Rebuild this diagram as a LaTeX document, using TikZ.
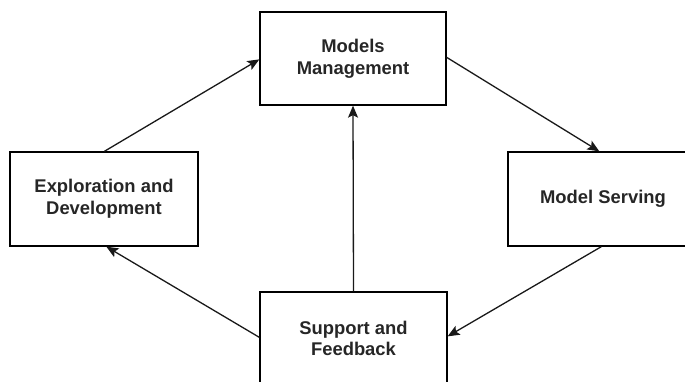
\documentclass[tikz,border=0pt]{standalone}
\usepackage{fontspec}
\setmainfont{Liberation Sans}
\usetikzlibrary{arrows.meta}
\begin{document}
\begin{tikzpicture}[x=1pt,y=1pt,
  stagebox/.style={draw=black, line width=1.3pt, rectangle, inner sep=0pt,
    align=center, font=\fontsize{18.4}{21.8}\selectfont\bfseries,
    text=black!85},
  flow/.style={draw=black!90, line width=1.3pt,
    -{Stealth[length=12pt,width=10pt,inset=2.5pt]}}
]
\useasboundingbox (0,0) rectangle (685,-381);

\node[stagebox, minimum width=186pt, minimum height=93pt] (mm) at (353,-58.5) {Models\\Management};
\node[stagebox, minimum width=188pt, minimum height=94pt] (ed) at (104,-199) {Exploration and\\Development};
\node[stagebox, minimum width=190pt, minimum height=94pt] (ms) at (603,-199) {Model Serving};
\node[stagebox, minimum width=187pt, minimum height=93pt] (sf) at (353.5,-338.5) {Support and\\Feedback};

\draw[flow] ([xshift=95pt]ed.north west) -- ([yshift=-48pt]mm.north west);
\draw[flow] ([yshift=-46pt]mm.north east) -- ([xshift=92pt]ms.north west);
\draw[flow] ([xshift=94pt]ms.south west) -- ([yshift=-45pt]sf.north east);
\draw[flow] ([yshift=-46pt]sf.north west) -- ([xshift=97pt]ed.south west);
\draw[flow] (sf.north) -- (mm.south);
\end{tikzpicture}
\end{document}
